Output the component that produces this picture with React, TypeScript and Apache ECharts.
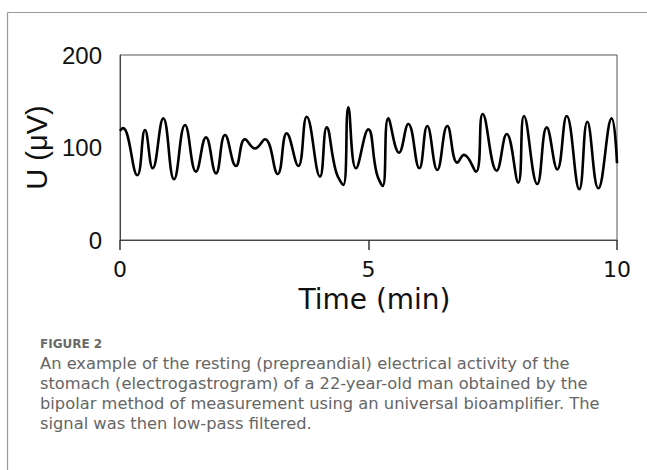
import React, { useEffect, useRef } from "react";
import * as echarts from "echarts";

const times = [0, 0.06, 0.348, 0.503, 0.658, 0.871, 1.087, 1.308, 1.529, 1.73, 1.932, 2.113, 2.334, 2.515, 2.716, 2.918, 3.173, 3.354, 3.588, 3.757, 4.024, 4.159, 4.346, 4.493, 4.594, 4.748, 4.996, 5.165, 5.286, 5.398, 5.614, 5.801, 6.022, 6.183, 6.384, 6.586, 6.787, 6.922, 7.163, 7.298, 7.579, 7.781, 8.014, 8.129, 8.396, 8.586, 8.799, 8.988, 9.241, 9.402, 9.624, 9.893, 10];
const voltages = [118, 121, 70, 119, 77.5, 131.5, 65.6, 124.3, 73.9, 111, 72, 113.5, 80, 109, 99, 109, 71.4, 115.3, 80, 133.3, 68.5, 121.8, 74, 59.5, 143.4, 77.5, 119.6, 72, 58.4, 131.5, 94.4, 125.4, 77.5, 123.2, 75.7, 123.2, 83.6, 92, 73.9, 136.2, 74.9, 114.6, 62, 134, 60.5, 121.8, 76.4, 134, 54.8, 127.9, 55.9, 131.5, 83];
const xTicks = [0, 5, 10];
const yTicks = [0, 100, 200];

const figureLabel = "FIGURE 2";
const captionLines = [
  "An example of the resting (prepreandial) electrical activity of the",
  "stomach (electrogastrogram) of a 22-year-old man obtained by the",
  "bipolar method of measurement using an universal bioamplifier. The",
  "signal was then low-pass filtered.",
];

export default function App() {
  const ref = useRef<HTMLDivElement>(null);
  useEffect(() => {
    if (!ref.current) return;
    const chart = echarts.init(ref.current, null, { renderer: "svg" });
    const data = times.map((t, i) => [t, voltages[i]]);
    const dejavu = "'DejaVu Sans', sans-serif";
    const arial = "'Liberation Sans', Arial, sans-serif";
    chart.setOption({
      animation: false,
      backgroundColor: "#ffffff",
      grid: {
        left: 120,
        top: 55,
        width: 497,
        height: 185,
        show: true,
        borderColor: "#555",
        borderWidth: 1,
        containLabel: false,
        outerBoundsMode: "none",
      },
      xAxis: {
        type: "value",
        min: xTicks[0],
        max: xTicks[xTicks.length - 1],
        interval: 5,
        name: "Time (min)",
        nameLocation: "middle",
        nameGap: 46,
        nameTextStyle: { fontSize: 28, lineHeight: 26, color: "#111", fontFamily: dejavu, padding: [0, 0, 0, 12] },
        axisLine: { show: true, lineStyle: { color: "#444", width: 1 } },
        axisTick: { show: true, length: 10, inside: false, lineStyle: { color: "#333", width: 1.5 } },
        axisLabel: { fontSize: 22, lineHeight: 22, color: "#111", margin: 18, fontFamily: dejavu },
        splitLine: { show: false },
      },
      yAxis: {
        type: "value",
        min: yTicks[0],
        max: yTicks[yTicks.length - 1],
        interval: 100,
        name: "U (μV)",
        nameLocation: "middle",
        nameGap: 66,
        nameTextStyle: { fontSize: 29, color: "#111", fontFamily: arial },
        axisLine: { show: true, lineStyle: { color: "#444", width: 1 } },
        axisTick: { show: false },
        axisLabel: { fontSize: 24, color: "#111", margin: 18, fontFamily: arial },
        splitLine: { show: false },
      },
      series: [
        {
          type: "line",
          data,
          smooth: 0.45,
          showSymbol: false,
          lineStyle: { color: "#000", width: 2.6 },
          clip: true,
        },
      ],
      graphic: [
        { type: "line", shape: { x1: 7.5, y1: 12.5, x2: 647, y2: 12.5 }, style: { stroke: "#999", lineWidth: 1.2 } },
        { type: "line", shape: { x1: 7.5, y1: 12.5, x2: 7.5, y2: 470 }, style: { stroke: "#999", lineWidth: 1.2 } },
        {
          type: "text",
          x: 40,
          y: 344,
          style: {
            text: figureLabel,
            fontSize: 12,
            fontWeight: "bold",
            fill: "#6a6a6a",
            fontFamily: dejavu,
            verticalAlign: "middle",
            align: "left",
          },
        },
        ...captionLines.map((line, i) => ({
          type: "text",
          x: 40,
          y: 363.5 + i * 20,
          style: {
            text: line,
            fontSize: 16.3,
            fill: "#666",
            fontFamily: dejavu,
            verticalAlign: "middle",
            align: "left",
          },
        })),
      ],
    });
    return () => chart.dispose();
  }, []);
  return <div ref={ref} style={{ position: "absolute", left: 0, top: 0, width: 647, height: 470 }} />;
}
